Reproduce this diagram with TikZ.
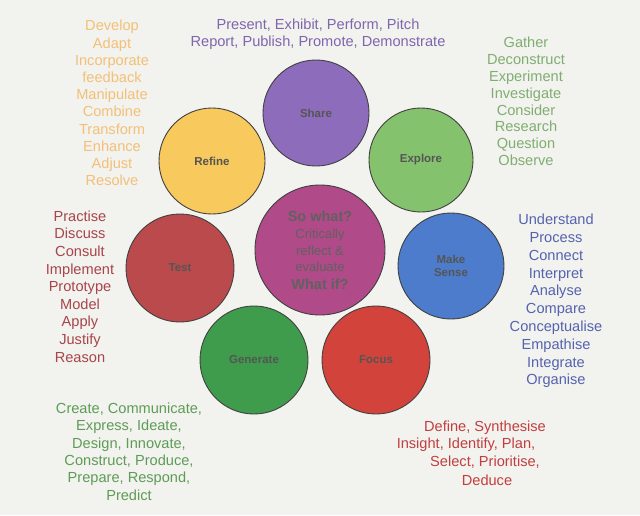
\documentclass[tikz,border=0pt]{standalone}
\usepackage{fontspec}
\setmainfont{Liberation Sans}
\definecolor{bgc}{HTML}{F2F2EF}
\definecolor{sharef}{HTML}{8E6CBC}
\definecolor{sharet}{HTML}{7F66AE}
\definecolor{exploref}{HTML}{84C26E}
\definecolor{exploret}{HTML}{80AE70}
\definecolor{refinef}{HTML}{F8C95C}
\definecolor{refinet}{HTML}{F2C077}
\definecolor{centref}{HTML}{B04A88}
\definecolor{sensef}{HTML}{4C7CCB}
\definecolor{senset}{HTML}{5563AE}
\definecolor{testf}{HTML}{BA4A4C}
\definecolor{testt}{HTML}{A8454A}
\definecolor{genf}{HTML}{3E9C4C}
\definecolor{gent}{HTML}{5E9C56}
\definecolor{focusf}{HTML}{D2433C}
\definecolor{focust}{HTML}{C23E3E}
\definecolor{lbl}{HTML}{555555}
\tikzset{
  stage/.style={circle, draw=black!75, line width=0.9pt, minimum size=#1, inner sep=0pt,
    text=lbl, font=\fontsize{11.5}{13.5}\selectfont\bfseries, align=center},
  words/.style={align=center, inner sep=0pt, font=\fontsize{14.6}{17.2}\selectfont}
}
\begin{document}
\begin{tikzpicture}[x=1pt,y=-1pt]
\fill[bgc] (0,0) rectangle (640,515);
\useasboundingbox (0,0) rectangle (640,515);
% circles
\node[stage=106pt, fill=sharef] (share) at (316,113) {Share};
\node[stage=104pt, fill=exploref] (explore) at (421,160) {Explore};
\node[stage=106pt, fill=refinef] (refine) at (212,161) {Refine};
\node[stage=130pt, fill=centref, font=\fontsize{13}{16.5}\selectfont, text=black!62] (centre) at (320,250)
  {\textbf{\fontsize{14.5}{16.5}\selectfont So what?}\\[1pt] Critically\\ reflect \&\\ evaluate\\[1pt] \textbf{\fontsize{14.5}{16.5}\selectfont What if?}};
\node[stage=106pt, fill=sensef] (sense) at (451,266) {Make\\Sense};
\node[stage=108pt, fill=testf] (test) at (180,268) {Test};
\node[stage=108pt, fill=genf] (generate) at (254,360) {Generate};
\node[stage=108pt, fill=focusf] (focus) at (376,360) {Focus};
% word lists
\node[words, text=sharet] (sharew) at (318,34) {Present, Exhibit, Perform, Pitch\\Report, Publish, Promote, Demonstrate};
\node[words, text=refinet] (refinew) at (112,103) {Develop\\Adapt\\Incorporate\\feedback\\Manipulate\\Combine\\Transform\\Enhance\\Adjust\\Resolve};
\node[words, text=exploret, font=\fontsize{14.6}{16.8}\selectfont] (explorew) at (526,101.5) {Gather\\Deconstruct\\Experiment\\Investigate\\Consider\\Research\\Question\\Observe};
\node[words, text=senset, font=\fontsize{14.6}{17.8}\selectfont] (sensew) at (556,301) {Understand\\Process\\Connect\\Interpret\\Analyse\\Compare\\Conceptualise\\Empathise\\Integrate\\Organise};
\node[words, text=testt, font=\fontsize{14.6}{17.6}\selectfont] (testw) at (80,286.5) {Practise\\Discuss\\Consult\\Implement\\Prototype\\Model\\Apply\\Justify\\Reason};
\node[words, text=gent, font=\fontsize{14.6}{17.4}\selectfont] (genw) at (129,451.5) {Create, Communicate,\\Express, Ideate,\\Design, Innovate,\\Construct, Produce,\\Prepare, Respond,\\Predict};
\node[words, text=focust] (focusw1) at (485,428) {Define, Synthesise};
\node[words, text=focust] (focusw2) at (466,445) {Insight, Identify, Plan,};
\node[words, text=focust] (focusw3) at (485,462) {Select, Prioritise,};
\node[words, text=focust] (focusw4) at (487,480) {Deduce};
\end{tikzpicture}
\end{document}
